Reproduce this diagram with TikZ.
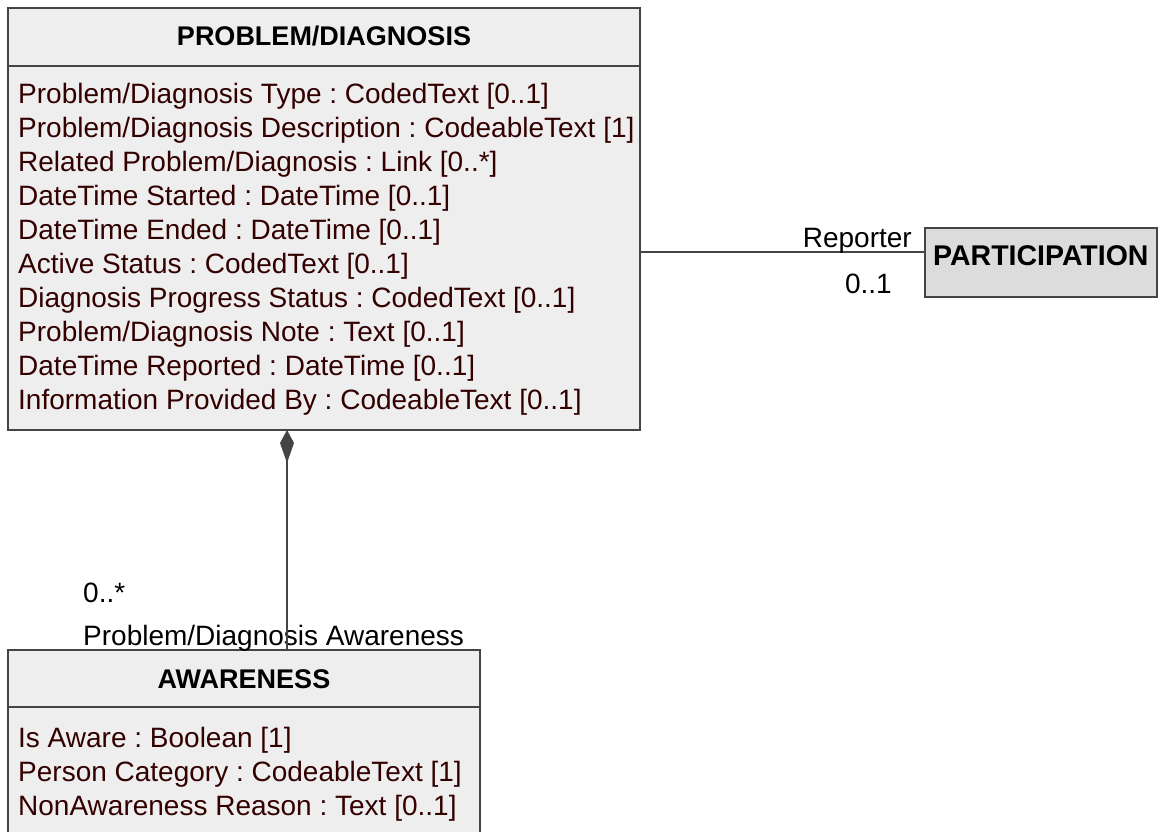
\documentclass[tikz,border=0pt]{standalone}
\usepackage{fontspec}
\setmainfont{Liberation Sans}
\usetikzlibrary{positioning,arrows.meta}
\definecolor{boxfill}{HTML}{EEEEEE}
\definecolor{partfill}{HTML}{DCDCDC}
\definecolor{edgeline}{HTML}{444444}
\definecolor{attrtext}{HTML}{330000}
\newcommand{\umlfont}{\fontsize{28}{34}\selectfont\frenchspacing}
\tikzstyle{classbox}  = [draw=edgeline, fill=boxfill, line width=2.2pt, inner sep=0pt, outer sep=0pt, anchor=north west]
\tikzstyle{classname} = [font=\fontsize{27}{34}\selectfont\bfseries, anchor=base, inner sep=0pt]
\tikzstyle{attr}      = [text=attrtext, anchor=base west, inner sep=0pt]
\tikzstyle{role}      = [anchor=base east, inner sep=0pt]
\tikzstyle{assoc}     = [draw=edgeline, line width=2.2pt]
\tikzstyle{compose}   = [assoc, {Kite[length=33pt,width=14pt,inset=20pt]}-]

\begin{document}
\begin{tikzpicture}[x=1pt,y=-1pt,font=\umlfont]
	\useasboundingbox (0,0) rectangle (1158,831);
	\clip (0,0) rectangle (1158,831);

	% problem/diagnosis
	\node[classbox,minimum width=632pt,minimum height=422pt](prob) at (8,8){};
	\draw[assoc] ([yshift=-58pt]prob.north west) -- ([yshift=-58pt]prob.north east);
	\node[classname](probname) at (324,45){PROBLEM/DIAGNOSIS};
	\foreach \t[count=\i from 0] in {
			Problem/Diagnosis Type : CodedText [0..1],
			Problem/Diagnosis Description : CodeableText [1],
			Related Problem/Diagnosis : Link [0..*],
			DateTime Started : DateTime [0..1],
			DateTime Ended : DateTime [0..1],
			Active Status : CodedText [0..1],
			Diagnosis Progress Status : CodedText [0..1],
			Problem/Diagnosis Note : Text [0..1],
			DateTime Reported : DateTime [0..1],
			Information Provided By : CodeableText [0..1]
		}
	\node[attr](probattr\i) at (18,{103+34*\i}){\t};

	% participation
	\node[classbox,fill=partfill,minimum width=232pt,minimum height=69pt](part) at (925,228){};
	\node[classname,anchor=base west,font=\fontsize{28.5}{34}\selectfont\bfseries](partname) at (933,265){PARTICIPATION};

	% awareness
	\node[classbox,minimum width=472pt,minimum height=220pt](aware) at (8,650){};
	\draw[assoc] ([yshift=-57pt]aware.north west) -- ([yshift=-57pt]aware.north east);
	\node[classname](awarename) at (244,688){AWARENESS};
	\foreach \t[count=\i from 0] in {
			Is Aware : Boolean [1],
			Person Category : CodeableText [1],
			NonAwareness Reason : Text [0..1]
		}
	\node[attr](awareattr\i) at (18,{747+34*\i}){\t};

	% associations
	\coordinate (reporterend) at (925,252);
	\draw[assoc] (prob.east |- reporterend) -- (part.west |- reporterend);
	\node[role](reporter) at (912,247){Reporter};
	\node[role](reportermult) at (892,293){0..1};

	\node[anchor=base west,inner sep=0pt](awaremult) at (83,602){0..*};
	\node[anchor=base west,inner sep=0pt](awarerole) at (83,645){Problem/Diagnosis Awareness};
	\coordinate (awarelink) at (287,0);
	\draw[compose] (prob.south -| awarelink) -- (aware.north -| awarelink);
\end{tikzpicture}
\end{document}
